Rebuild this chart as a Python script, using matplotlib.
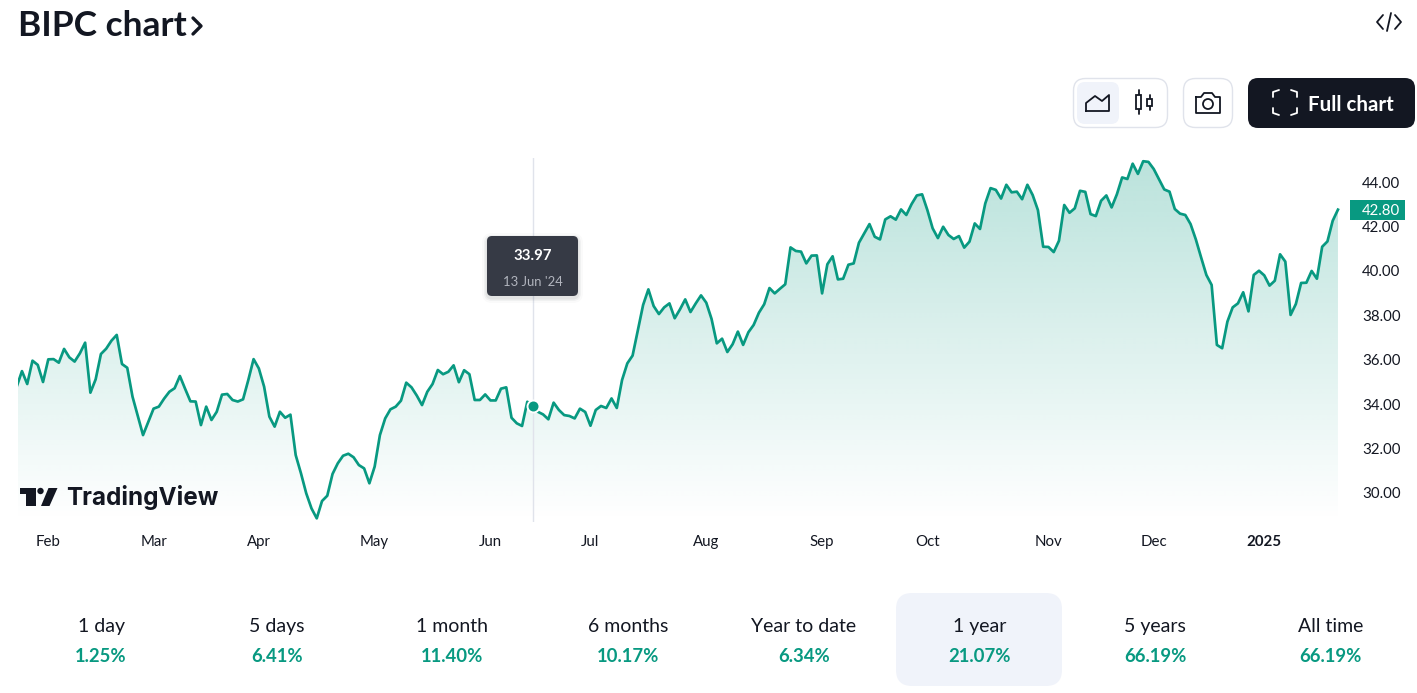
import numpy as np
import matplotlib
matplotlib.use("Agg")
import matplotlib.pyplot as plt
from matplotlib.patches import FancyBboxPatch, Polygon, Circle, Rectangle
from matplotlib.transforms import ScaledTranslation

# Daily closing prices, one trading year
prices = [
    34.83, 35.53, 34.95, 36.00, 35.81, 35.04, 36.06, 36.07, 35.91, 36.53,
    36.15, 35.96, 36.33, 36.81, 34.56, 35.16, 36.30, 36.54, 36.90, 37.16,
    35.85, 35.68, 34.38, 33.51, 32.65, 33.25, 33.84, 33.93, 34.29, 34.60,
    34.76, 35.31, 34.73, 34.17, 34.16, 33.10, 33.93, 33.33, 33.70, 34.47,
    34.50, 34.23, 34.16, 34.26, 35.13, 36.07, 35.65, 34.83, 33.48, 33.03,
    33.70, 33.43, 33.57, 31.75, 30.93, 30.03, 29.35, 28.90, 29.68, 29.92,
    30.90, 31.38,
    31.72, 31.81, 31.65, 31.30, 31.15, 30.48, 31.23, 32.65, 33.40, 33.81,
    33.93, 34.20, 35.01, 34.80, 34.43, 34.00, 34.60, 34.95, 35.58, 35.39,
    35.50, 35.79, 35.03, 35.57, 35.39, 34.23, 34.23, 34.48, 34.21, 34.21,
    34.74, 34.80, 33.43, 33.18, 33.06, 34.15, 33.97, 33.70, 33.58, 33.36,
    34.11, 33.78, 33.55, 33.51, 33.40, 33.84, 33.69, 33.07, 33.78, 33.96,
    33.87, 34.30, 33.87, 35.13, 35.88, 36.23, 37.38, 38.51, 39.21, 38.46,
    38.10, 38.40, 38.58,
    37.91, 38.31, 38.76, 38.19, 38.58, 38.94, 38.61, 37.88, 36.78, 36.99,
    36.39, 36.74, 37.31, 36.71, 37.28, 37.61, 38.16, 38.54, 39.27, 39.03,
    39.24, 39.44, 41.10, 40.94, 40.91, 40.38, 40.73, 40.74, 39.03, 40.34,
    40.70, 39.66, 39.69, 40.32, 40.38, 41.31, 41.73, 42.15, 41.58, 41.46,
    42.36, 42.50, 42.35, 42.81, 42.56, 43.05, 43.44, 43.49, 42.78, 41.96,
    41.52, 42.03, 41.66, 41.48, 41.61, 41.09, 41.36, 42.18, 41.93, 43.08,
    43.77, 43.69,
    43.30, 43.92, 43.58, 43.61, 43.27, 43.92, 43.46, 42.78, 41.13, 41.12,
    40.89, 41.40, 43.01, 42.66, 42.86, 43.65, 43.60, 42.60, 42.51, 43.20,
    43.44, 42.90, 43.49, 44.25, 44.18, 44.87, 44.41, 44.98, 44.95, 44.63,
    44.17, 43.71, 43.61, 42.83, 42.62, 42.56, 42.15, 41.46, 40.65, 39.86,
    39.41, 36.71, 36.56, 37.76, 38.40, 38.58, 39.08, 38.22, 39.86, 40.05,
    39.84, 39.38, 39.60, 40.79, 40.46, 38.06, 38.55, 39.50, 39.51, 40.04,
    39.69, 41.13, 41.37, 42.30, 42.80,
]
month_index = [6, 26, 46, 68, 90, 109, 131, 153, 173, 196, 216, 237]
month_labels = ["Feb", "Mar", "Apr", "May", "Jun", "Jul", "Aug", "Sep", "Oct", "Nov", "Dec", "2025"]
price_ticks = [30, 32, 34, 36, 38, 40, 42, 44]
hover_index = 98
hover_date = "13 Jun '24"
period_names = ["1 day", "5 days", "1 month", "6 months", "Year to date", "1 year", "5 years", "All time"]
period_returns = ["1.25%", "6.41%", "11.40%", "10.17%", "6.34%", "21.07%", "66.19%", "66.19%"]
selected_period = "1 year"

W, H = 1417, 693
GREEN = "#089981"
INK = "#131722"
BORDER = "#e0e3eb"
PALE = "#f0f3fa"
FONT = "Lato"
prices = np.array(prices)
days = np.arange(len(prices))

fig = plt.figure(figsize=(W / 100, H / 100), dpi=100, facecolor="white")

def px_axes(x0, y0, x1, y1, **kw):
    return fig.add_axes([x0 / W, 1 - y1 / H, (x1 - x0) / W, (y1 - y0) / H], **kw)

# Price chart: x runs on trading-day index, y on dollars
ax = px_axes(18, 158, 1340, 522, facecolor="none")
step = 5.264
y0, y1 = 44 - (522 - 183) / 22.21, 44 + (183 - 158) / 22.21
for s in ax.spines.values():
    s.set_visible(False)

# Vertical gradient under the line
grad = np.zeros((256, 2, 4))
grad[..., :3] = matplotlib.colors.to_rgb(GREEN)
grad[..., 3] = np.linspace(0.28, 0.0, 256)[:, None]
img = ax.imshow(grad, extent=[days[0], days[-1], y0, y1], origin="upper",
                aspect="auto", zorder=1, interpolation="bilinear")
ax.set_xlim((18 - 16.7) / step, (1340 - 16.7) / step)
ax.set_ylim(y0, y1)
under = Polygon(np.vstack([np.column_stack([days, prices]),
                           [days[-1], y0], [days[0], y0]]),
                closed=True, transform=ax.transData, facecolor="none", edgecolor="none")
ax.add_patch(under)
img.set_clip_path(under)

ax.axvline(hover_index, color=BORDER, lw=1.0, zorder=2)
ax.plot(days, prices, color=GREEN, lw=1.95, solid_joinstyle="round", zorder=3)
ax.plot([hover_index], [prices[hover_index]], "o", ms=10, mfc="white", mec="none", zorder=4)
ax.plot([hover_index], [prices[hover_index]], "o", ms=7.2, mfc=GREEN, mec="none", zorder=5)

ax.set_xticks(month_index)
ax.set_xticklabels(month_labels, fontfamily=FONT, fontsize=10.8, color=INK)
ax.get_xticklabels()[-1].set_fontweight("bold")
ax.tick_params(axis="x", length=0, pad=9.7)
ax.yaxis.tick_right()
ax.set_yticks(price_ticks)
ax.set_yticklabels([f"{v:.2f}" for v in price_ticks], fontfamily=FONT, fontsize=10.8, color=INK)
ax.tick_params(axis="y", length=0, pad=16)
nudge = ScaledTranslation(0, 1.0 / 100, fig.dpi_scale_trans)
for lbl in ax.get_yticklabels():
    lbl.set_transform(lbl.get_transform() + nudge)

# Interface overlay in pixel coordinates
ui = px_axes(0, 0, W, H, facecolor="none")
ui.set_xlim(0, W)
ui.set_ylim(H, 0)
ui.axis("off")

def text(x, y, s, px, color=INK, ha="center", weight="normal", family=FONT):
    # y is the middle of the capitals, so labels with descenders stay on one baseline
    ui.text(x, y + 0.35 * px, s, fontsize=px * 0.72, color=color, ha=ha, va="baseline",
            fontweight=weight, fontfamily=family, zorder=10)

def box(x0, y0, x1, y1, r, fc, ec="none", lw=1.0, alpha=1.0, z=6):
    ui.add_patch(FancyBboxPatch((x0 + r, y0 + r), x1 - x0 - 2 * r, y1 - y0 - 2 * r,
                                boxstyle=f"round,pad={r},rounding_size={r}",
                                fc=fc, ec=ec, lw=lw, alpha=alpha, zorder=z))

def stroke(xs, ys, color=INK, lw=1.3):
    ui.plot(xs, ys, color=color, lw=lw, solid_capstyle="round", solid_joinstyle="round", zorder=10)

# Heading and embed icon
text(18, 24, "BIPC chart", 35.2, ha="left", weight="bold")
stroke([193, 201, 193], [18, 26, 34], lw=2.4)
stroke([1383, 1377, 1383], [15, 22, 29])
stroke([1395, 1401, 1395], [15, 22, 29])
stroke([1391, 1387], [13, 31])

# Chart type switch
box(1073.5, 78.5, 1167.5, 127.5, 12, "white", BORDER)
box(1077, 82, 1119, 124, 8, PALE)
stroke([1086, 1086, 1095, 1102, 1109, 1109, 1086], [111, 103, 96, 101, 95, 111, 111])
stroke([1138.5, 1138.5], [90, 114])
ui.add_patch(Rectangle((1136, 95), 5, 14, fc="white", ec=INK, lw=1.3, zorder=10))
stroke([1149.5, 1149.5], [95, 110])
ui.add_patch(Rectangle((1147, 99), 5, 7, fc="white", ec=INK, lw=1.3, zorder=10))

# Snapshot button
box(1183.5, 78.5, 1232.5, 127.5, 12, "white", BORDER)
stroke([1196, 1201, 1204, 1212, 1215, 1220, 1220, 1196, 1196],
       [97, 97, 93, 93, 97, 97, 113, 113, 97])
ui.add_patch(Circle((1208, 104), 5, fc="none", ec=INK, lw=1.3, zorder=10))

# Full chart button
box(1248, 78, 1415, 128, 10, INK)
for cx, cy, sx, sy in [(1273, 90, 1, 1), (1297, 90, -1, 1), (1273, 115, 1, -1), (1297, 115, -1, -1)]:
    stroke([cx, cx, cx + 6 * sx], [cy + 7 * sy, cy + 2 * sy, cy], color="white", lw=1.3)
text(1308, 104, "Full chart", 20.5, color="white", ha="left", weight="bold")

# Hover tooltip
for g, a in [(5, 0.02), (3, 0.04), (1.5, 0.06)]:
    box(487 - g, 236 - g + 2, 578 + g, 296 + g + 2, 5 + g, "#131722", alpha=a, z=6)
box(487, 236, 578, 296, 5, "#363a45", z=7)
text(533, 255, f"{prices[hover_index]:.2f}", 15, color="white", weight="bold")
text(533, 281, hover_date, 13, color="#b2b5be")

# Last-price tag
ui.add_patch(Rectangle((1350, 200), 55, 20, fc=GREEN, ec="none", zorder=7))
text(1380.5, 210, f"{prices[-1]:.2f}", 15, color="white")

# Brand mark
ui.add_patch(Polygon([(20, 488), (36, 488), (36, 506), (26, 506), (26, 494), (20, 494)],
                     fc=INK, ec="none", zorder=10))
ui.add_patch(Circle((40.5, 491), 3.2, fc=INK, ec="none", zorder=10))
ui.add_patch(Polygon([(48.5, 488), (57.5, 488), (49.5, 506), (41, 506)], fc=INK, ec="none", zorder=10))
text(66, 496.5, "TradingView", 24.2, ha="left", weight="bold", family="Inter")

# Performance strip
centers = 101 + 175.7 * np.arange(len(period_names))
for c, name, ret in zip(centers, period_names, period_returns):
    if name == selected_period:
        box(896, 593, 1062, 686, 16, PALE, z=1)
    text(c, 625, name, 19.5)
    text(c, 656, ret, 18.5, color=GREEN, weight="bold")

fig.savefig("out.png", dpi=100, facecolor="white")
